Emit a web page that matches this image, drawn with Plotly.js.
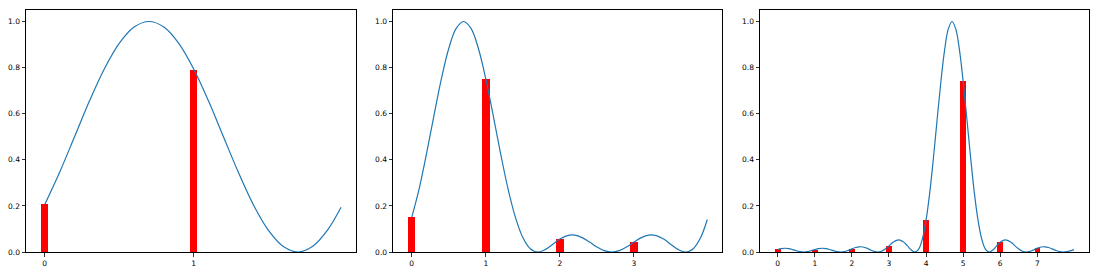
<!DOCTYPE html>
<html>
<head>
<meta charset="utf-8">
<script src="https://cdn.plot.ly/plotly-3.0.1.min.js"></script>
<style>html,body{margin:0;padding:0;background:#fff;}#chart{width:1100px;height:275px;}</style>
</head>
<body>
<div id="chart"></div>
<script>
// ---- Panel 1 (2 outcomes) ----
const bins1 = [0, 1];
const probs1 = [0.21, 0.79];
const curveX1 = [0,0.1,0.2,0.3,0.4,0.5,0.6,0.7,0.8,0.9,1.0,1.1,1.2,1.3,1.4,1.5,1.6,1.7,1.8,1.9,1.99];
const curveY1 = [0.206,0.346,0.5,0.655,0.794,0.905,0.976,1.0,0.976,0.905,0.794,0.655,0.5,0.346,0.206,0.096,0.025,0.0,0.025,0.096,0.194];

// ---- Panel 2 (4 outcomes) ----
const bins2 = [0, 1, 2, 3];
const probs2 = [0.150, 0.750, 0.056, 0.044];
const curveX2 = [0,0.1,0.2,0.3,0.4,0.5,0.6,0.7,0.8,0.9,1.0,1.1,1.2,1.3,1.4,1.5,1.6,1.7,1.8,1.9,2.0,
                 2.1,2.2,2.3,2.4,2.5,2.6,2.7,2.8,2.9,3.0,3.1,3.2,3.3,3.4,3.5,3.6,3.7,3.8,3.9,3.99];
const curveY2 = [0.150,0.274,0.427,0.592,0.751,0.883,0.970,1.0,0.970,0.883,0.751,0.592,0.427,0.274,0.150,0.0625,0.0142,0.0,0.0103,0.0330,0.0563,
                 0.0712,0.0732,0.0625,0.0433,0.0221,0.0060,0.0,0.0060,0.0221,0.0433,0.0625,0.0732,0.0712,0.0563,0.0330,0.0103,0.0,0.0142,0.0625,0.141];

// ---- Panel 3 (8 outcomes) ----
const bins3 = [0, 1, 2, 3, 4, 5, 6, 7];
const probs3 = [0.011, 0.010, 0.013, 0.027, 0.140, 0.740, 0.043, 0.017];
const curveX3 = [0,0.1,0.2,0.3,0.4,0.5,0.6,0.7,0.8,0.9,1.0,1.1,1.2,1.3,1.4,1.5,1.6,1.7,1.8,1.9,
                 2.0,2.1,2.2,2.3,2.4,2.5,2.6,2.7,2.8,2.9,3.0,3.1,3.2,3.3,3.4,3.5,3.6,3.7,3.8,3.9,
                 4.0,4.1,4.2,4.3,4.4,4.5,4.6,4.7,4.8,4.9,5.0,5.1,5.2,5.3,5.4,5.5,5.6,5.7,5.8,5.9,
                 6.0,6.1,6.2,6.3,6.4,6.5,6.6,6.7,6.8,6.9,7.0,7.1,7.2,7.3,7.4,7.5,7.6,7.7,7.8,7.9,7.99];
const curveY3 = [0.0110,0.0150,0.0162,0.0145,0.0104,0.0054,0.0015,0.0,0.0015,0.0054,0.0104,0.0145,0.0162,0.0150,0.0110,0.0060,0.0017,0.0,0.0018,0.0068,
                 0.0134,0.0194,0.0226,0.0216,0.0166,0.0093,0.0028,0.0,0.0032,0.0128,0.0267,0.0409,0.0506,0.0518,0.0428,0.0262,0.0085,0.0,0.0125,0.0565,
                 0.139,0.259,0.411,0.578,0.740,0.877,0.968,1.0,0.968,0.877,0.740,0.578,0.411,0.259,0.139,0.0565,0.0125,0.0,0.0085,0.0262,
                 0.0428,0.0518,0.0506,0.0409,0.0267,0.0128,0.0032,0.0,0.0028,0.0093,0.0166,0.0216,0.0226,0.0194,0.0134,0.0068,0.0018,0.0,0.0017,0.0060,0.0106];

const barWidths = [0.05, 0.1, 0.15];
const yTicks = [0, 0.2, 0.4, 0.6, 0.8, 1.0];
const yTickText = ['0.0', '0.2', '0.4', '0.6', '0.8', '1.0'];

const panels = [
  {bins: bins1, probs: probs1, cx: curveX1, cy: curveY1},
  {bins: bins2, probs: probs2, cx: curveX2, cy: curveY2},
  {bins: bins3, probs: probs3, cx: curveX3, cy: curveY3}
];

const traces = [];
panels.forEach((p, i) => {
  const xa = i === 0 ? 'x' : 'x' + (i + 1);
  const ya = i === 0 ? 'y' : 'y' + (i + 1);
  traces.push({type: 'bar', x: p.bins, y: p.probs, width: barWidths[i],
    marker: {color: '#ff0000', line: {width: 0}}, xaxis: xa, yaxis: ya, showlegend: false, hoverinfo: 'skip'});
  traces.push({type: 'scatter', mode: 'lines', x: p.cx, y: p.cy,
    line: {color: '#1f77b4', width: 1.2, shape: 'spline', smoothing: 1}, xaxis: xa, yaxis: ya, showlegend: false, hoverinfo: 'skip'});
});

const font = {family: 'DejaVu Sans, sans-serif', size: 7.5, color: '#000'};
const domains = [[0, 0.3104], [0.3453, 0.6550], [0.6905, 1]];
const xRanges = [[-0.126, 2.09], [-0.252, 4.192], [-0.478, 8.393]];

const layout = {
  width: 1100, height: 275,
  margin: {l: 26, r: 11, t: 10, b: 23, pad: 0},
  paper_bgcolor: '#fff', plot_bgcolor: '#fff',
  font: font, bargap: 0, showlegend: false
};

panels.forEach((p, i) => {
  const sx = i === 0 ? '' : String(i + 1);
  layout['xaxis' + sx] = {
    domain: domains[i], range: xRanges[i], anchor: 'y' + sx,
    tickmode: 'array', tickvals: p.bins, ticktext: p.bins.map(String),
    ticks: 'outside', ticklen: 3.5, tickwidth: 0.8, tickcolor: '#000',
    showline: true, mirror: true, linecolor: '#000', linewidth: 1,
    showgrid: false, zeroline: false, tickfont: font, automargin: false
  };
  layout['yaxis' + sx] = {
    domain: [0, 1], range: [0, 1.05], anchor: 'x' + sx,
    tickmode: 'array', tickvals: yTicks, ticktext: yTickText,
    ticks: 'outside', ticklen: 3.5, tickwidth: 0.8, tickcolor: '#000',
    showline: true, mirror: true, linecolor: '#000', linewidth: 1,
    showgrid: false, zeroline: false, tickfont: font, automargin: false
  };
});

Plotly.newPlot('chart', traces, layout, {displayModeBar: false, staticPlot: true});
</script>
</body>
</html>
